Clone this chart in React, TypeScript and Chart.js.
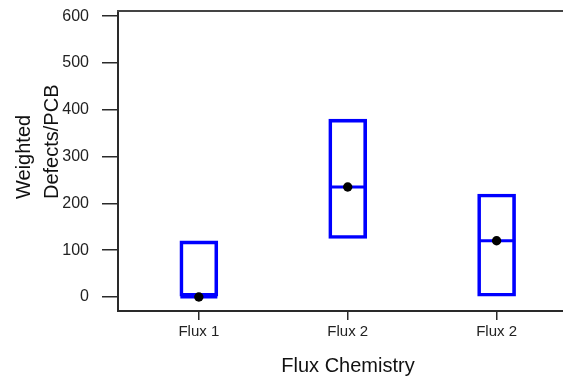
import React, { useEffect, useRef } from "react";
import { Chart, registerables } from "chart.js";

Chart.register(...registerables);

const categories = ["Flux 1", "Flux 2", "Flux 2"];
const boxLow = [0, 125, 0];
const boxHigh = [120, 380, 220];
const medians = [0, 235, 120];
const means = [0, 235, 120];
const yTicks = [0, 100, 200, 300, 400, 500, 600];
const xTitle = "Flux Chemistry";
const yTitleLines = ["Weighted", "Defects/PCB"];

const FONT = "'Liberation Sans', Arial, Helvetica, sans-serif";
const BLUE = "#0000ff";
const AXIS = "#2a2a2a";

const framePlugin = {
  id: "frameAndTitle",
  afterDraw(chart: any) {
    const { ctx, chartArea } = chart;
    ctx.save();
    // top frame line
    ctx.strokeStyle = "#444444";
    ctx.lineWidth = 2;
    ctx.beginPath();
    ctx.moveTo(chartArea.left - 1, chartArea.top);
    ctx.lineTo(chartArea.right, chartArea.top);
    ctx.stroke();
    // x axis title
    ctx.fillStyle = "#111111";
    ctx.font = `20px ${FONT}`;
    ctx.textAlign = "center";
    ctx.textBaseline = "alphabetic";
    ctx.fillText(xTitle, 348, 372);
    // y axis title (two lines, rotated)
    ctx.textAlign = "left";
    const baselines = [29.5, 57.5];
    yTitleLines.forEach((line, i) => {
      ctx.save();
      ctx.translate(baselines[i], 199);
      ctx.rotate(-Math.PI / 2);
      ctx.fillText(line, 0, 0);
      ctx.restore();
    });
    ctx.restore();
  },
};

export default function App() {
  const ref = useRef<HTMLCanvasElement>(null);

  useEffect(() => {
    if (!ref.current) return;
    const chart = new Chart(ref.current, {
      type: "bar",
      data: {
        datasets: [
          {
            type: "bar",
            data: categories.map((_, i) => ({ x: i + 1, y: [boxLow[i], boxHigh[i]] })) as any,
            backgroundColor: "rgba(0,0,0,0)",
            borderColor: BLUE,
            borderWidth: 3,
            borderSkipped: false,
            barThickness: 38,
            order: 3,
          } as any,
          {
            type: "scatter",
            data: categories.map((_, i) => ({ x: i + 1, y: medians[i] })),
            pointStyle: "line",
            pointRadius: 18.5,
            pointHoverRadius: 18.5,
            borderColor: BLUE,
            borderWidth: 3,
            showLine: false,
            order: 2,
          } as any,
          {
            type: "scatter",
            data: categories.map((_, i) => ({ x: i + 1, y: means[i] })),
            pointStyle: "circle",
            pointRadius: 4.7,
            pointHoverRadius: 4.7,
            backgroundColor: "#000000",
            borderColor: "#000000",
            borderWidth: 0,
            showLine: false,
            order: 1,
          } as any,
        ],
      },
      options: {
        responsive: false,
        animation: false,
        devicePixelRatio: 1,
        layout: { autoPadding: false, padding: { top: 11, left: 0, right: 0, bottom: 0 } },
        plugins: {
          legend: { display: false },
          tooltip: { enabled: false },
          title: { display: false },
        },
        scales: {
          x: {
            type: "linear",
            min: 0.457,
            max: 3.446,
            offset: false,
            afterBuildTicks: (s: any) => {
              s.ticks = categories.map((_, i) => ({ value: i + 1 }));
            },
            afterFit: (s: any) => {
              s.height = 68;
              s.paddingLeft = 0;
              s.paddingRight = 0;
            },
            ticks: {
              callback: (_v: any, i: number) => categories[i],
              font: { family: FONT, size: 15 },
              color: "#222222",
              padding: 3,
              maxRotation: 0,
              autoSkip: false,
            },
            grid: {
              display: true,
              offset: false,
              drawOnChartArea: false,
              drawTicks: true,
              tickLength: 9,
              color: AXIS,
              lineWidth: 1.5,
            },
            border: { display: true, color: AXIS, width: 2 },
            title: { display: false },
          },
          y: {
            type: "linear",
            min: -30,
            max: 611,
            afterBuildTicks: (s: any) => {
              s.ticks = yTicks.map((v) => ({ value: v }));
            },
            afterFit: (s: any) => {
              s.width = 118;
              s.paddingTop = 0;
              s.paddingBottom = 0;
            },
            ticks: {
              font: { family: FONT, size: 16 },
              color: "#222222",
              padding: 13,
            },
            grid: {
              display: true,
              offset: false,
              drawOnChartArea: false,
              drawTicks: true,
              tickLength: 16,
              color: AXIS,
              lineWidth: 1.5,
            },
            border: { display: true, color: AXIS, width: 2 },
            title: { display: false },
          },
        },
      } as any,
      plugins: [framePlugin],
    });
    return () => chart.destroy();
  }, []);

  return (
    <div style={{ position: "absolute", left: 0, top: 0, width: 563, height: 379, background: "#fff" }}>
      <canvas ref={ref} width={563} height={379} style={{ display: "block", width: 563, height: 379 }} />
    </div>
  );
}
